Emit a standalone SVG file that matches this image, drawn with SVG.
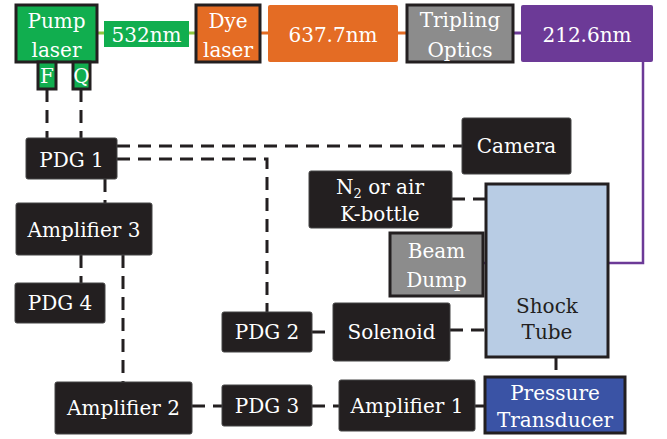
<svg xmlns="http://www.w3.org/2000/svg" width="667" height="439" viewBox="0 0 667 439">
<style>
text{font-family:"DejaVu Serif","Liberation Serif",serif;font-size:20px;fill:#fff;text-anchor:middle}
.dk{fill:#231F20}
.blk{fill:#231F20;stroke:#444;stroke-width:1}
.bd{stroke:#231F20;stroke-width:3}
.dash{fill:none;stroke:#231F20;stroke-width:3;stroke-dasharray:13 8}
.sol{fill:none;stroke-width:3}
</style>
<rect width="667" height="439" fill="#fff"/>
<g id="connectors">
<path class="sol" stroke="#8CC63E" d="M97 33H104M189 33H196"/>
<path class="sol" stroke="#E46C24" d="M260 33H268M398 33H407"/>
<path class="sol" stroke="#6C3A97" d="M513 33H521"/>
<path fill="none" stroke="#6C3A97" stroke-width="2.5" d="M643 62V263H483"/>
<path class="dash" d="M47 89V138"/>
<path class="dash" d="M81 89V138"/>
<path class="dash" d="M117 146H462"/>
<path class="dash" d="M117 159H267V312"/>
<path class="dash" d="M105 179V203"/>
<path class="dash" d="M81 255V283"/>
<path class="dash" d="M123 255V382"/>
<path class="dash" d="M192 406H222"/>
<path class="dash" d="M312 406H339"/>
<path class="sol" stroke="#231F20" d="M475 406H485"/>
<path class="dash" d="M556 357V377" stroke-dasharray="7 6"/>
<path class="dash" d="M312 332H333" stroke-dasharray="7 7"/>
<path class="dash" d="M450 330H486"/>
<path class="dash" d="M452 199H486"/>
</g>
<g id="pump"><rect x="16" y="5" width="81" height="57" fill="#11AE4F" class="bd"/><text x="56.5" y="28">Pump</text><text x="56.5" y="57">laser</text></g>
<g id="F"><rect x="38" y="62" width="18" height="27" fill="#11AE4F" class="bd"/><text x="47" y="83">F</text></g>
<g id="Q"><rect x="73" y="62" width="17" height="27" fill="#11AE4F" class="bd"/><text x="81.5" y="83">Q</text></g>
<g id="g532"><rect x="104" y="21" width="85" height="26" fill="#11AE4F"/><text x="146.5" y="42">532nm</text></g>
<g id="dye"><rect x="196" y="5" width="64" height="57" fill="#E46C24" class="bd"/><text x="228" y="28">Dye</text><text x="228" y="57">laser</text></g>
<g id="g637"><rect x="268" y="5" width="130" height="57" rx="2" fill="#E46C24"/><text x="333" y="42">637.7nm</text></g>
<g id="tripling"><rect x="407" y="5" width="106" height="57" fill="#8C8C8C" class="bd"/><text x="460" y="27">Tripling</text><text x="460" y="57">Optics</text></g>
<g id="g212"><rect x="521" y="5" width="132" height="57" rx="2" fill="#6C3A97"/><text x="587" y="42">212.6nm</text></g>
<g id="pdg1"><rect x="26" y="138" width="91" height="41" rx="2" class="blk"/><text x="71.5" y="167">PDG 1</text></g>
<g id="camera"><rect x="462" y="118" width="109" height="56" rx="2" class="blk"/><text x="516.5" y="153">Camera</text></g>
<g id="amp3"><rect x="16" y="203" width="136" height="52" rx="2" class="blk"/><text x="84" y="237">Amplifier 3</text></g>
<g id="pdg4"><rect x="15" y="283" width="90" height="40" rx="2" class="blk"/><text x="60" y="310">PDG 4</text></g>
<g id="n2"><rect x="309" y="171" width="143" height="57" rx="2" class="blk"/><text x="380" y="194">N<tspan font-size="13" dy="4">2</tspan><tspan dy="-4"> or air</tspan></text><text x="380" y="221">K-bottle</text></g>
<g id="shock"><rect x="486" y="184" width="122" height="173" fill="#B8CCE4" class="bd"/><text x="547" y="313" class="dk">Shock</text><text x="547" y="339" class="dk">Tube</text></g>
<g id="beam"><rect x="390" y="233" width="93" height="63" fill="#8C8C8C" class="bd"/><text x="436.5" y="258">Beam</text><text x="436.5" y="287">Dump</text></g>
<g id="pdg2"><rect x="222" y="312" width="90" height="40" rx="2" class="blk"/><text x="267" y="339">PDG 2</text></g>
<g id="solenoid"><rect x="333" y="303" width="117" height="58" rx="2" class="blk"/><text x="391.5" y="339">Solenoid</text></g>
<g id="amp2"><rect x="55" y="382" width="137" height="52" rx="2" class="blk"/><text x="123.5" y="415">Amplifier 2</text></g>
<g id="pdg3"><rect x="222" y="385" width="90" height="41" rx="2" class="blk"/><text x="267" y="413">PDG 3</text></g>
<g id="amp1"><rect x="339" y="380" width="136" height="51" rx="2" class="blk"/><text x="407" y="413">Amplifier 1</text></g>
<g id="pt"><rect x="485" y="377" width="140" height="56" fill="#3A53A5" class="bd"/><text x="555" y="400">Pressure</text><text x="555" y="427">Transducer</text></g>
</svg>
